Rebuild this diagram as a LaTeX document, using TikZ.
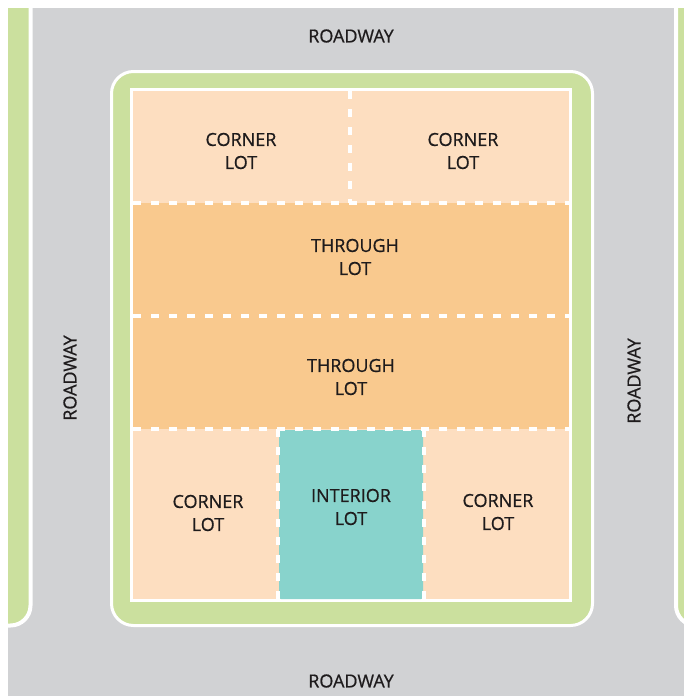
\documentclass[tikz,border=0pt]{standalone}
\usepackage{fontspec}
\setmainfont{Open Sans}
\newfontfamily\lblfont{Open Sans}[FakeBold=0.7]
\definecolor{road}{RGB}{209,210,212}
\definecolor{grass}{RGB}{203,224,158}
\definecolor{peach}{RGB}{253,222,192}
\definecolor{orng}{RGB}{249,201,142}
\definecolor{teal}{RGB}{136,211,204}
\definecolor{ink}{RGB}{30,27,28}
\tikzset{
  lbl/.style={text=ink, align=center, font=\lblfont\fontsize{18}{23}\selectfont, inner sep=0pt},
  lotline/.style={white, line width=3.5pt, dash pattern=on 8pt off 10pt},
}
\begin{document}
\begin{tikzpicture}[x=1pt,y=-1pt]
\useasboundingbox (0,0) rectangle (684,696);
\fill[white] (0,0) rectangle (684,696);
\fill[road] (8,8) rectangle (684,696);
% side verges
\draw[white, line width=4pt, fill=grass, rounded corners=20pt] (-40,-40) rectangle (30.5,625.5);
\draw[white, line width=4pt, fill=grass, rounded corners=20pt] (676,-40) rectangle (740,625.5);
\fill[white] (0,0) rectangle (8,696);
\fill[white] (0,0) rectangle (684,8);
% block
\draw[white, line width=3pt, fill=grass, rounded corners=22pt] (111.5,71.5) rectangle (592.5,625.5);
\fill[white] (130,88) rectangle (572,602);
% lots
\fill[peach] (133,91) rectangle (569,203);
\fill[orng] (133,203) rectangle (569,429);
\fill[peach] (133,429) rectangle (569,599);
\fill[teal, rounded corners=2pt] (279,430) rectangle (423,599);
% dividing lines
\coordinate (h1l) at (133,203); \coordinate (h1r) at (569,203);
\coordinate (h2l) at (133,316); \coordinate (h2r) at (569,316);
\coordinate (h3l) at (133,429); \coordinate (h3r) at (569,429);
\coordinate (v1t) at (350,91);  \coordinate (v1b) at (350,203);
\coordinate (v2t) at (278,429); \coordinate (v2b) at (278,599);
\coordinate (v3t) at (424,429); \coordinate (v3b) at (424,599);
\draw[lotline] (h1l) -- (h1r);
\draw[lotline] (h2l) -- (h2r);
\draw[lotline] (h3l) -- (h3r);
\draw[lotline] (v1t) -- (v1b);
\draw[lotline] (v2t) -- (v2b);
\draw[lotline] (v3t) -- (v3b);
% labels
\node[lbl] (c1) at (241,151) {CORNER\\LOT};
\node[lbl] (c2) at (463,151) {CORNER\\LOT};
\node[lbl] (t1) at (355,257) {THROUGH\\LOT};
\node[lbl] (t2) at (351,377) {THROUGH\\LOT};
\node[lbl] (c3) at (208,513) {CORNER\\LOT};
\node[lbl] (in) at (351,507) {INTERIOR\\LOT};
\node[lbl] (c4) at (498,512) {CORNER\\LOT};
\node[lbl] (rt) at (351,36) {ROADWAY};
\node[lbl] (rb) at (351,681) {ROADWAY};
\node[lbl, rotate=90] (rl) at (70,378) {ROADWAY};
\node[lbl, rotate=90] (rr) at (634,381) {ROADWAY};
\end{tikzpicture}
\end{document}
